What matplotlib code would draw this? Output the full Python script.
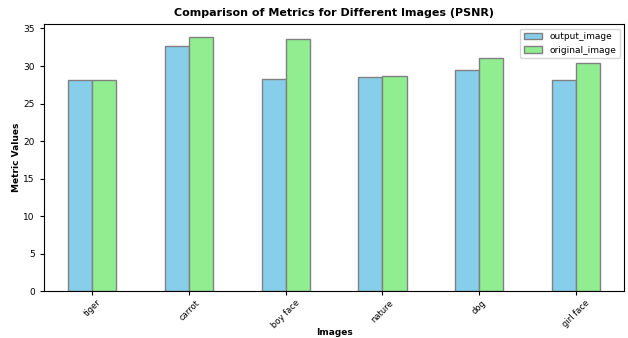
import matplotlib
matplotlib.use("Agg")
import matplotlib.pyplot as plt
import numpy as np

categories = ["tiger", "carrot", "boy face", "nature", "dog", "girl face"]
output_image = [28.1, 32.6, 28.25, 28.55, 29.45, 28.1]
original_image = [28.1, 33.8, 33.65, 28.7, 31.05, 30.45]
series_names = ["output_image", "original_image"]

fig = plt.figure(figsize=(6.28, 3.38), dpi=100)
ax = fig.add_axes([0.070, 0.139, 0.924, 0.790])

x = np.arange(len(categories))
w = 0.25
ax.bar(x - w / 2, output_image, w, color="skyblue", edgecolor="grey", label=series_names[0])
ax.bar(x + w / 2, original_image, w, color="lightgreen", edgecolor="grey", label=series_names[1])

ax.set_xlim(-0.5, len(categories) - 0.5)
ax.set_ylim(0, 35.6)
ax.set_xticks(x)
ax.set_xticklabels(categories, rotation=45, fontsize=6)
ax.set_yticks(np.arange(0, 36, 5))
ax.tick_params(axis="y", labelsize=6.5, length=3)
ax.tick_params(axis="x", length=3, pad=2)
for s in ax.spines.values():
    s.set_linewidth(0.8)

ax.set_title("Comparison of Metrics for Different Images (PSNR)", fontsize=8, fontweight="bold")
ax.set_xlabel("Images", fontsize=6.5, fontweight="bold")
ax.xaxis.set_label_coords(0.5, -0.138)
ax.set_ylabel("Metric Values", fontsize=6.5, fontweight="bold", labelpad=2)
ax.legend(loc="upper right", fontsize=6.5)

fig.savefig("out.png", dpi=100)
